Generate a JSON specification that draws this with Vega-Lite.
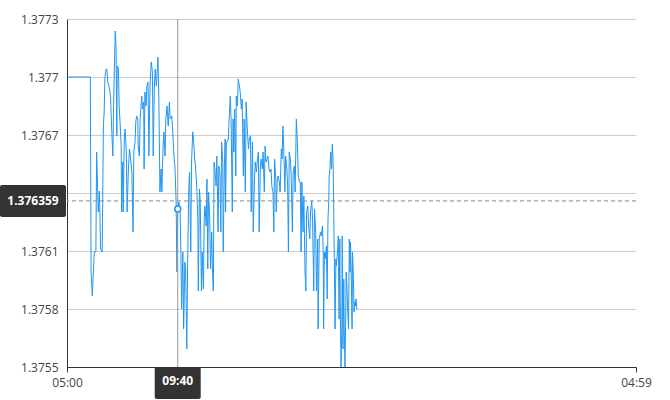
{
"$schema": "https://vega.github.io/schema/vega-lite/v6.json",
"width": 569, "height": 348,
"autosize": {"type": "none"},
"padding": {"left": 67, "top": 19, "right": 34, "bottom": 33},
"background": "white",
"config": {"view": {"stroke": null}, "font": "Open Sans"},
"datasets": {
"price": [
{"t":"2024-01-01T05:00","v":1.377},{"t":"2024-01-01T05:59","v":1.377},{"t":"2024-01-01T06:01","v":1.375991},{"t":"2024-01-01T06:04","v":1.375867},{"t":"2024-01-01T06:09","v":1.376095},{"t":"2024-01-01T06:13","v":1.376095},{"t":"2024-01-01T06:15","v":1.376612},{"t":"2024-01-01T06:19","v":1.376302},{"t":"2024-01-01T06:22","v":1.37641},{"t":"2024-01-01T06:25","v":1.37611},{"t":"2024-01-01T06:29","v":1.376095},{"t":"2024-01-01T06:32","v":1.376747},{"t":"2024-01-01T06:34","v":1.376819},{"t":"2024-01-01T06:36","v":1.377005},{"t":"2024-01-01T06:39","v":1.377041},{"t":"2024-01-01T06:41","v":1.377041},{"t":"2024-01-01T06:43","v":1.376974},{"t":"2024-01-01T06:46","v":1.376953},{"t":"2024-01-01T06:50","v":1.376902},{"t":"2024-01-01T06:53","v":1.376731},{"t":"2024-01-01T06:56","v":1.376591},{"t":"2024-01-01T06:58","v":1.376871},{"t":"2024-01-01T07:00","v":1.377057},{"t":"2024-01-01T07:02","v":1.377238},{"t":"2024-01-01T07:04","v":1.37716},{"t":"2024-01-01T07:06","v":1.376695},{"t":"2024-01-01T07:07","v":1.377057},{"t":"2024-01-01T07:10","v":1.377041},{"t":"2024-01-01T07:12","v":1.37685},{"t":"2024-01-01T07:15","v":1.376731},{"t":"2024-01-01T07:17","v":1.376643},{"t":"2024-01-01T07:18","v":1.376302},{"t":"2024-01-01T07:21","v":1.37656},{"t":"2024-01-01T07:22","v":1.376302},{"t":"2024-01-01T07:25","v":1.376695},{"t":"2024-01-01T07:27","v":1.376731},{"t":"2024-01-01T07:30","v":1.376612},{"t":"2024-01-01T07:32","v":1.376302},{"t":"2024-01-01T07:35","v":1.376509},{"t":"2024-01-01T07:38","v":1.376628},{"t":"2024-01-01T07:41","v":1.376576},{"t":"2024-01-01T07:44","v":1.376509},{"t":"2024-01-01T07:47","v":1.376198},{"t":"2024-01-01T07:49","v":1.376612},{"t":"2024-01-01T07:52","v":1.376664},{"t":"2024-01-01T07:54","v":1.376767},{"t":"2024-01-01T07:56","v":1.376798},{"t":"2024-01-01T07:59","v":1.376783},{"t":"2024-01-01T08:00","v":1.376643},{"t":"2024-01-01T08:03","v":1.376591},{"t":"2024-01-01T08:05","v":1.376783},{"t":"2024-01-01T08:09","v":1.376902},{"t":"2024-01-01T08:11","v":1.376834},{"t":"2024-01-01T08:14","v":1.376871},{"t":"2024-01-01T08:15","v":1.376524},{"t":"2024-01-01T08:17","v":1.376922},{"t":"2024-01-01T08:20","v":1.37685},{"t":"2024-01-01T08:22","v":1.376953},{"t":"2024-01-01T08:25","v":1.376974},{"t":"2024-01-01T08:27","v":1.376591},{"t":"2024-01-01T08:30","v":1.376953},{"t":"2024-01-01T08:33","v":1.377078},{"t":"2024-01-01T08:36","v":1.377026},{"t":"2024-01-01T08:38","v":1.376591},{"t":"2024-01-01T08:41","v":1.376953},{"t":"2024-01-01T08:43","v":1.377041},{"t":"2024-01-01T08:46","v":1.376953},{"t":"2024-01-01T08:48","v":1.377026},{"t":"2024-01-01T08:50","v":1.377103},{"t":"2024-01-01T08:52","v":1.376922},{"t":"2024-01-01T08:53","v":1.376767},{"t":"2024-01-01T08:55","v":1.376405},{"t":"2024-01-01T08:58","v":1.376524},{"t":"2024-01-01T09:00","v":1.376405},{"t":"2024-01-01T09:03","v":1.376643},{"t":"2024-01-01T09:05","v":1.376716},{"t":"2024-01-01T09:08","v":1.376591},{"t":"2024-01-01T09:10","v":1.376783},{"t":"2024-01-01T09:13","v":1.37685},{"t":"2024-01-01T09:16","v":1.376747},{"t":"2024-01-01T09:19","v":1.376871},{"t":"2024-01-01T09:21","v":1.376783},{"t":"2024-01-01T09:25","v":1.376798},{"t":"2024-01-01T09:27","v":1.376731},{"t":"2024-01-01T09:31","v":1.376576},{"t":"2024-01-01T09:33","v":1.37654},{"t":"2024-01-01T09:36","v":1.376353},{"t":"2024-01-01T09:38","v":1.375991},{"t":"2024-01-01T09:40","v":1.376317},{"t":"2024-01-01T09:43","v":1.376353},{"t":"2024-01-01T09:46","v":1.376302},{"t":"2024-01-01T09:48","v":1.376095},{"t":"2024-01-01T09:50","v":1.3758},{"t":"2024-01-01T09:53","v":1.376095},{"t":"2024-01-01T09:55","v":1.375697},{"t":"2024-01-01T09:58","v":1.376043},{"t":"2024-01-01T10:00","v":1.376022},{"t":"2024-01-01T10:03","v":1.375593},{"t":"2024-01-01T10:05","v":1.376022},{"t":"2024-01-01T10:08","v":1.376421},{"t":"2024-01-01T10:10","v":1.376509},{"t":"2024-01-01T10:13","v":1.376095},{"t":"2024-01-01T10:15","v":1.37656},{"t":"2024-01-01T10:18","v":1.376716},{"t":"2024-01-01T10:20","v":1.376679},{"t":"2024-01-01T10:23","v":1.376576},{"t":"2024-01-01T10:25","v":1.37654},{"t":"2024-01-01T10:28","v":1.376436},{"t":"2024-01-01T10:31","v":1.376266},{"t":"2024-01-01T10:32","v":1.375893},{"t":"2024-01-01T10:35","v":1.376421},{"t":"2024-01-01T10:37","v":1.376353},{"t":"2024-01-01T10:40","v":1.375893},{"t":"2024-01-01T10:42","v":1.376095},{"t":"2024-01-01T10:45","v":1.375903},{"t":"2024-01-01T10:47","v":1.376266},{"t":"2024-01-01T10:49","v":1.376333},{"t":"2024-01-01T10:52","v":1.376229},{"t":"2024-01-01T10:54","v":1.376472},{"t":"2024-01-01T10:56","v":1.376007},{"t":"2024-01-01T10:58","v":1.376405},{"t":"2024-01-01T11:01","v":1.376266},{"t":"2024-01-01T11:03","v":1.376007},{"t":"2024-01-01T11:06","v":1.376198},{"t":"2024-01-01T11:08","v":1.375991},{"t":"2024-01-01T11:10","v":1.375893},{"t":"2024-01-01T11:12","v":1.37656},{"t":"2024-01-01T11:14","v":1.376524},{"t":"2024-01-01T11:17","v":1.376436},{"t":"2024-01-01T11:19","v":1.376591},{"t":"2024-01-01T11:22","v":1.376198},{"t":"2024-01-01T11:24","v":1.37654},{"t":"2024-01-01T11:27","v":1.376488},{"t":"2024-01-01T11:29","v":1.376198},{"t":"2024-01-01T11:31","v":1.376664},{"t":"2024-01-01T11:34","v":1.37656},{"t":"2024-01-01T11:35","v":1.376095},{"t":"2024-01-01T11:38","v":1.37654},{"t":"2024-01-01T11:40","v":1.376679},{"t":"2024-01-01T11:41","v":1.376302},{"t":"2024-01-01T11:43","v":1.376664},{"t":"2024-01-01T11:45","v":1.376664},{"t":"2024-01-01T11:48","v":1.376679},{"t":"2024-01-01T11:50","v":1.376783},{"t":"2024-01-01T11:53","v":1.376902},{"t":"2024-01-01T11:55","v":1.376783},{"t":"2024-01-01T11:58","v":1.376302},{"t":"2024-01-01T12:00","v":1.376783},{"t":"2024-01-01T12:02","v":1.376612},{"t":"2024-01-01T12:04","v":1.376834},{"t":"2024-01-01T12:07","v":1.376488},{"t":"2024-01-01T12:08","v":1.376902},{"t":"2024-01-01T12:11","v":1.37685},{"t":"2024-01-01T12:13","v":1.37699},{"t":"2024-01-01T12:16","v":1.376953},{"t":"2024-01-01T12:18","v":1.376922},{"t":"2024-01-01T12:21","v":1.376834},{"t":"2024-01-01T12:23","v":1.376886},{"t":"2024-01-01T12:26","v":1.376488},{"t":"2024-01-01T12:28","v":1.376783},{"t":"2024-01-01T12:31","v":1.376405},{"t":"2024-01-01T12:33","v":1.376871},{"t":"2024-01-01T12:36","v":1.376731},{"t":"2024-01-01T12:39","v":1.376628},{"t":"2024-01-01T12:41","v":1.376679},{"t":"2024-01-01T12:44","v":1.376695},{"t":"2024-01-01T12:46","v":1.376302},{"t":"2024-01-01T12:49","v":1.376664},{"t":"2024-01-01T12:51","v":1.376198},{"t":"2024-01-01T12:54","v":1.376457},{"t":"2024-01-01T12:56","v":1.37656},{"t":"2024-01-01T12:59","v":1.376509},{"t":"2024-01-01T13:01","v":1.37656},{"t":"2024-01-01T13:04","v":1.376612},{"t":"2024-01-01T13:06","v":1.376198},{"t":"2024-01-01T13:09","v":1.37654},{"t":"2024-01-01T13:11","v":1.376576},{"t":"2024-01-01T13:14","v":1.376524},{"t":"2024-01-01T13:16","v":1.376612},{"t":"2024-01-01T13:19","v":1.376405},{"t":"2024-01-01T13:21","v":1.376643},{"t":"2024-01-01T13:23","v":1.37656},{"t":"2024-01-01T13:26","v":1.376576},{"t":"2024-01-01T13:28","v":1.376591},{"t":"2024-01-01T13:31","v":1.376524},{"t":"2024-01-01T13:33","v":1.376509},{"t":"2024-01-01T13:36","v":1.376524},{"t":"2024-01-01T13:38","v":1.376436},{"t":"2024-01-01T13:41","v":1.376405},{"t":"2024-01-01T13:43","v":1.376198},{"t":"2024-01-01T13:45","v":1.376576},{"t":"2024-01-01T13:48","v":1.376472},{"t":"2024-01-01T13:49","v":1.376302},{"t":"2024-01-01T13:52","v":1.376472},{"t":"2024-01-01T13:54","v":1.376488},{"t":"2024-01-01T13:57","v":1.376457},{"t":"2024-01-01T13:59","v":1.376405},{"t":"2024-01-01T14:02","v":1.376628},{"t":"2024-01-01T14:04","v":1.376576},{"t":"2024-01-01T14:06","v":1.376747},{"t":"2024-01-01T14:08","v":1.376643},{"t":"2024-01-01T14:11","v":1.376405},{"t":"2024-01-01T14:13","v":1.376591},{"t":"2024-01-01T14:16","v":1.376524},{"t":"2024-01-01T14:18","v":1.376436},{"t":"2024-01-01T14:20","v":1.376095},{"t":"2024-01-01T14:22","v":1.376612},{"t":"2024-01-01T14:25","v":1.376576},{"t":"2024-01-01T14:27","v":1.376488},{"t":"2024-01-01T14:30","v":1.376198},{"t":"2024-01-01T14:32","v":1.376509},{"t":"2024-01-01T14:35","v":1.37654},{"t":"2024-01-01T14:37","v":1.376405},{"t":"2024-01-01T14:40","v":1.376783},{"t":"2024-01-01T14:42","v":1.376695},{"t":"2024-01-01T14:45","v":1.376488},{"t":"2024-01-01T14:48","v":1.376457},{"t":"2024-01-01T14:50","v":1.376457},{"t":"2024-01-01T14:52","v":1.376095},{"t":"2024-01-01T14:54","v":1.376457},{"t":"2024-01-01T14:57","v":1.376198},{"t":"2024-01-01T14:59","v":1.376384},{"t":"2024-01-01T15:02","v":1.375991},{"t":"2024-01-01T15:04","v":1.375893},{"t":"2024-01-01T15:06","v":1.376302},{"t":"2024-01-01T15:09","v":1.376333},{"t":"2024-01-01T15:11","v":1.376229},{"t":"2024-01-01T15:14","v":1.376162},{"t":"2024-01-01T15:16","v":1.376302},{"t":"2024-01-01T15:19","v":1.376359},{"t":"2024-01-01T15:21","v":1.376266},{"t":"2024-01-01T15:24","v":1.375893},{"t":"2024-01-01T15:26","v":1.376317},{"t":"2024-01-01T15:29","v":1.376198},{"t":"2024-01-01T15:31","v":1.375893},{"t":"2024-01-01T15:34","v":1.376162},{"t":"2024-01-01T15:35","v":1.375697},{"t":"2024-01-01T15:38","v":1.376162},{"t":"2024-01-01T15:41","v":1.376198},{"t":"2024-01-01T15:43","v":1.376178},{"t":"2024-01-01T15:46","v":1.376229},{"t":"2024-01-01T15:48","v":1.376095},{"t":"2024-01-01T15:49","v":1.375697},{"t":"2024-01-01T15:51","v":1.376095},{"t":"2024-01-01T15:53","v":1.376059},{"t":"2024-01-01T15:56","v":1.376126},{"t":"2024-01-01T15:58","v":1.375852},{"t":"2024-01-01T16:00","v":1.376266},{"t":"2024-01-01T16:02","v":1.376353},{"t":"2024-01-01T16:03","v":1.376488},{"t":"2024-01-01T16:05","v":1.376524},{"t":"2024-01-01T16:07","v":1.376612},{"t":"2024-01-01T16:09","v":1.376524},{"t":"2024-01-01T16:11","v":1.376653},{"t":"2024-01-01T16:13","v":1.37656},{"t":"2024-01-01T16:14","v":1.376405},{"t":"2024-01-01T16:16","v":1.376059},{"t":"2024-01-01T16:18","v":1.375697},{"t":"2024-01-01T16:20","v":1.376059},{"t":"2024-01-01T16:21","v":1.376022},{"t":"2024-01-01T16:24","v":1.376095},{"t":"2024-01-01T16:26","v":1.376178},{"t":"2024-01-01T16:28","v":1.375748},{"t":"2024-01-01T16:30","v":1.376162},{"t":"2024-01-01T16:31","v":1.375836},{"t":"2024-01-01T16:33","v":1.3755},{"t":"2024-01-01T16:35","v":1.375697},{"t":"2024-01-01T16:36","v":1.376178},{"t":"2024-01-01T16:38","v":1.375593},{"t":"2024-01-01T16:40","v":1.375955},{"t":"2024-01-01T16:41","v":1.375712},{"t":"2024-01-01T16:43","v":1.3755},{"t":"2024-01-01T16:45","v":1.375784},{"t":"2024-01-01T16:46","v":1.375991},{"t":"2024-01-01T16:48","v":1.375919},{"t":"2024-01-01T16:50","v":1.375784},{"t":"2024-01-01T16:52","v":1.375697},{"t":"2024-01-01T16:54","v":1.376162},{"t":"2024-01-01T16:56","v":1.375991},{"t":"2024-01-01T16:57","v":1.376147},{"t":"2024-01-01T16:59","v":1.375955},{"t":"2024-01-01T17:01","v":1.375697},{"t":"2024-01-01T17:02","v":1.376095},{"t":"2024-01-01T17:04","v":1.375991},{"t":"2024-01-01T17:06","v":1.375784},{"t":"2024-01-01T17:08","v":1.375836},{"t":"2024-01-01T17:09","v":1.375816},{"t":"2024-01-01T17:11","v":1.375852},{"t":"2024-01-01T17:13","v":1.3758}
],
"cursor": [{"t": "2024-01-01T09:40", "v": 1.376359}],
"hover": [{"t": "2024-01-01T09:40", "v": 1.376317}]
},
"layer": [
{
"data": {"name": "price"},
"mark": {"type": "line", "color": "#2196F3", "strokeWidth": 1, "interpolate": "linear"},
"encoding": {
"x": {"field": "t", "type": "temporal",
"scale": {"domain": [{"year": 2024, "month": 1, "date": 1, "hours": 5, "minutes": 0}, {"year": 2024, "month": 1, "date": 2, "hours": 4, "minutes": 59}]},
"axis": {"title": null, "values": [{"year": 2024, "month": 1, "date": 1, "hours": 5, "minutes": 0}, {"year": 2024, "month": 1, "date": 2, "hours": 4, "minutes": 59}], "format": "%H:%M", "grid": false, "domainColor": "#333", "tickColor": "#333", "tickSize": 5, "labelPadding": 5, "labelFlush": false, "labelOverlap": false, "labelBound": false, "labelFontSize": 12, "labelColor": "#444", "labelFont": "Open Sans"}},
"y": {"field": "v", "type": "quantitative",
"scale": {"domain": [1.3755, 1.3773], "zero": false, "nice": false},
"axis": {"title": null, "values": [1.3755, 1.3758, 1.3761, 1.3764, 1.3767, 1.377, 1.3773], "format": ".4~f", "labelExpr": "abs(datum.value - 1.3764) < 0.00001 ? '' : datum.label", "grid": true, "gridColor": "#cccccc", "domainColor": "#333", "ticks": false, "tickSize": 0, "labelPadding": 9, "labelFontSize": 12, "labelColor": "#444", "labelFont": "Open Sans"}}
}
},
{
"data": {"name": "cursor"},
"mark": {"type": "rule", "color": "#999999", "strokeWidth": 1},
"encoding": {"x": {"field": "t", "type": "temporal"}}
},
{
"data": {"name": "cursor"},
"mark": {"type": "rule", "color": "#888888", "strokeWidth": 1, "strokeDash": [4, 3]},
"encoding": {"y": {"field": "v", "type": "quantitative"}}
},
{
"data": {"name": "hover"},
"mark": {"type": "circle", "fill": "white", "stroke": "#2196F3", "strokeWidth": 1.5, "size": 36, "opacity": 1},
"encoding": {"x": {"field": "t", "type": "temporal"}, "y": {"field": "v", "type": "quantitative"}}
},
{
"data": {"name": "cursor"},
"mark": {"type": "rect", "color": "#333333", "cornerRadius": 2, "xOffset": -67, "x2Offset": -1, "yOffset": -16, "y2Offset": 16},
"encoding": {
"x": {"datum": {"year": 2024, "month": 1, "date": 1, "hours": 5, "minutes": 0}, "type": "temporal"},
"x2": {"datum": {"year": 2024, "month": 1, "date": 1, "hours": 5, "minutes": 0}},
"y": {"field": "v", "type": "quantitative"},
"y2": {"field": "v"}
}
},
{
"data": {"name": "cursor"},
"mark": {"type": "text", "color": "white", "fontWeight": "bold", "fontSize": 12, "font": "Open Sans", "align": "center", "baseline": "middle", "dx": -34},
"encoding": {
"x": {"datum": {"year": 2024, "month": 1, "date": 1, "hours": 5, "minutes": 0}, "type": "temporal"},
"y": {"field": "v", "type": "quantitative"},
"text": {"field": "v", "type": "quantitative", "format": ".6f"}
}
},
{
"data": {"name": "cursor"},
"mark": {"type": "rect", "color": "#333333", "cornerRadius": 2, "xOffset": -23, "x2Offset": 23, "yOffset": 0, "y2Offset": 32},
"encoding": {
"x": {"field": "t", "type": "temporal"},
"x2": {"field": "t"},
"y": {"datum": 1.3755, "type": "quantitative"},
"y2": {"datum": 1.3755}
}
},
{
"data": {"name": "cursor"},
"mark": {"type": "text", "color": "white", "fontWeight": "bold", "fontSize": 12, "font": "Open Sans", "align": "center", "baseline": "middle", "dy": 14},
"encoding": {
"x": {"field": "t", "type": "temporal"},
"y": {"datum": 1.3755, "type": "quantitative"},
"text": {"field": "t", "type": "temporal", "format": "%H:%M"}
}
}
]
}
